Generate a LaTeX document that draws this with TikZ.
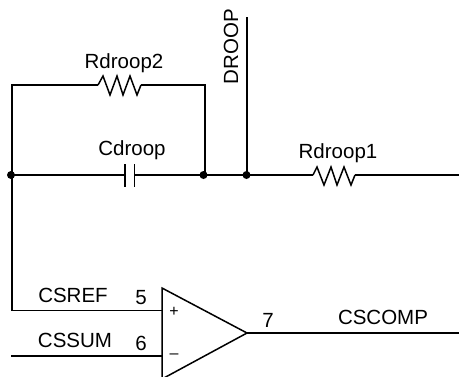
\documentclass[tikz,border=0pt]{standalone}
\usepackage{fontspec}
\setmainfont{Liberation Sans}
\begin{document}
\begin{tikzpicture}[x=1pt,y=-1pt,
  wire/.style={line width=1.8pt,line join=miter},
  thinwire/.style={line width=1.5pt,line join=miter},
  dotnode/.style={circle,fill=black,inner sep=0pt,minimum size=8pt},
  lbl/.style={inner sep=0pt,font=\fontsize{20.5}{24}\selectfont},
  sign/.style={inner sep=0pt,font=\fontsize{16}{18}\selectfont}]
\useasboundingbox (0,0) rectangle (459,376);
\clip (0,0) rectangle (459,376);
% junctions
\node[dotnode] (j1) at (11,175) {};
\node[dotnode] (j2) at (203.5,175) {};
\node[dotnode] (j3) at (246.5,175) {};
% free ends and corners
\coordinate (tl) at (12,85);
\coordinate (tr) at (205,85);
\coordinate (ra) at (98,85);
\coordinate (rb) at (141,85);
\coordinate (ca) at (125,175);
\coordinate (cb) at (134.5,175);
\coordinate (sa) at (313,175);
\coordinate (sb) at (355,175);
\coordinate (mainend) at (459,175);
\coordinate (droopbase) at (247,175);
\coordinate (droopend) at (247,17);
\coordinate (lc) at (12,310.5);
\coordinate (p5) at (162,310.5);
\coordinate (s6) at (11,356);
\coordinate (p6) at (162,356);
\coordinate (oa) at (162,288);
\coordinate (ob) at (162,379);
\coordinate (out) at (247,333);
\coordinate (outend) at (459,333);
% wires
\draw[wire] (ra) -- (tl) -- (lc) -- (p5);
\draw[wire] (rb) -- (tr) -- (tr |- j2);
\draw[wire] (j1.center) -- (ca);
\draw[wire] (cb) -- (j2.center);
\draw[wire] (j2.center) -- (j3.center);
\draw[wire] (j3.center) -- (sa);
\draw[wire] (sb) -- (mainend);
\draw[wire] (droopbase) -- (droopend);
\draw[wire] (s6) -- (p6);
\draw[wire] (out) -- (outend);
% resistors
\draw[thinwire] (ra) -- ++(5,-9) -- ++(7,19) -- ++(7,-19) -- ++(6,19) -- ++(7,-19) -- ++(7,19) -- (rb);
\draw[thinwire] (sa) -- ++(4,-8) -- ++(7,18) -- ++(7,-18) -- ++(6,18) -- ++(7,-18) -- ++(7,18) -- (sb);
% capacitor
\draw[thinwire] (125,164) -- (ca) -- (125,187);
\draw[thinwire] (134.5,164) -- (cb) -- (134.5,187);
% amplifier
\draw[thinwire] (oa) -- (out) -- (ob) -- cycle;
\node[sign] (plus) at (174,312) {+};
\node[sign] (minus) at (174,356) {–};
% labels
\node[lbl] (t1) at (124,63) {Rdroop2};
\node[lbl] (t2) at (132,150) {Cdroop};
\node[lbl] (t3) at (338,153) {Rdroop1};
\node[lbl,rotate=90] (t4) at (231,46.5) {DROOP};
\node[lbl] (t5) at (73,295) {CSREF};
\node[lbl] (t6) at (75,340) {CSSUM};
\node[lbl] (t7) at (141,298) {5};
\node[lbl] (t8) at (141,343.5) {6};
\node[lbl] (t9) at (268,320) {7};
\node[lbl] (t10) at (383,317.5) {CSCOMP};
\end{tikzpicture}
\end{document}
